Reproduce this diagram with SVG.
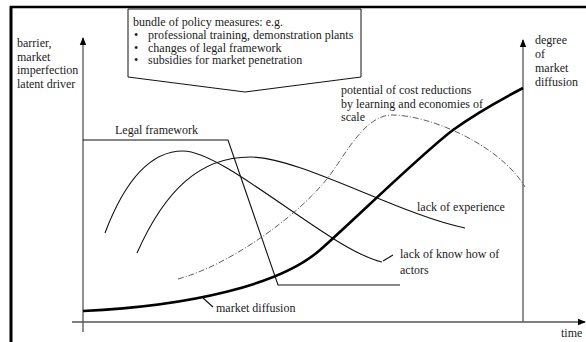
<svg xmlns="http://www.w3.org/2000/svg" width="586" height="342" viewBox="0 0 586 342">
<style>
text{font-family:"Liberation Serif","Times New Roman",serif;font-size:12px;fill:#1a1a1a}
.ax{stroke:#555;stroke-width:1.3;fill:none}
.c{stroke:#111;stroke-width:1.1;fill:none}
.thick{stroke:#000;stroke-width:2.6;fill:none}
.dd{stroke:#333;stroke-width:0.8;fill:none;stroke-dasharray:6 2 1 2}
</style>
<defs>
<marker id="ah" markerWidth="8" markerHeight="8" refX="7" refY="4" orient="auto" markerUnits="userSpaceOnUse">
<path d="M0,0.8 L8,4 L0,7.2 Z" fill="#000"/>
</marker>
</defs>
<g id="frame">
<line x1="10" y1="7" x2="586" y2="7" stroke="#000" stroke-width="2.5"/>
<line x1="11" y1="6" x2="11" y2="342" stroke="#000" stroke-width="3"/>
</g>
<g id="axes">
<line class="ax" x1="83" y1="332" x2="83" y2="38" marker-end="url(#ah)"/>
<line class="ax" x1="523" y1="322" x2="523" y2="40" marker-end="url(#ah)"/>
<line class="ax" x1="72" y1="322" x2="585" y2="322" marker-end="url(#ah)"/>
<text x="17" y="47">barrier,</text>
<text x="17" y="60.5">market</text>
<text x="17" y="74">imperfection</text>
<text x="17" y="87.5">latent driver</text>
<text x="535" y="44">degree</text>
<text x="535" y="58">of</text>
<text x="535" y="72">market</text>
<text x="535" y="86">diffusion</text>
<text x="561" y="337">time</text>
</g>
<g id="policy-box">
<path d="M128,9 L361,9 L361,77 L245,92 L128,77 Z" fill="#fff" stroke="#111" stroke-width="1"/>
<text x="133" y="26">bundle of policy measures: e.g.</text>
<text x="134" y="39">•</text><text x="148" y="39">professional training, demonstration plants</text>
<text x="134" y="51.5">•</text><text x="148" y="51.5">changes of legal framework</text>
<text x="134" y="64">•</text><text x="148" y="64">subsidies for market penetration</text>
</g>
<g id="connectors">
<polyline class="c" points="83,140 228,140 278,285 400,285"/>
<path id="know-how" class="c" d="M105,233 C125,180 150,151 183,151 C225,151 330,250 382,262"/>
<path id="experience" class="c" d="M137,253 C165,190 200,157 250,157 C300,157 400,215 465,228"/>
<path id="potential" class="dd" d="M178,279 C230,265 300,215 330,175 C345,155 365,115 392,115 C430,115 500,145 525,187"/>
<path id="diffusion" class="thick" d="M83,311 C190,306 280,285 320,250 C350,224 420,155 453,130 C475,114 500,100 523,88"/>
<line class="c" x1="203" y1="298" x2="213" y2="307" stroke-width="0.9"/>
<line class="c" x1="383" y1="261" x2="393" y2="255" stroke-width="0.9"/>
</g>
<g id="labels">
<text x="115" y="134">Legal framework</text>
<text x="341" y="94">potential of cost reductions</text>
<text x="341" y="108">by learning and economies of</text>
<text x="341" y="121">scale</text>
<text x="417" y="211">lack of experience</text>
<text x="400" y="258">lack of know how of</text>
<text x="400" y="274">actors</text>
<text x="216" y="312">market diffusion</text>
</g>
</svg>
